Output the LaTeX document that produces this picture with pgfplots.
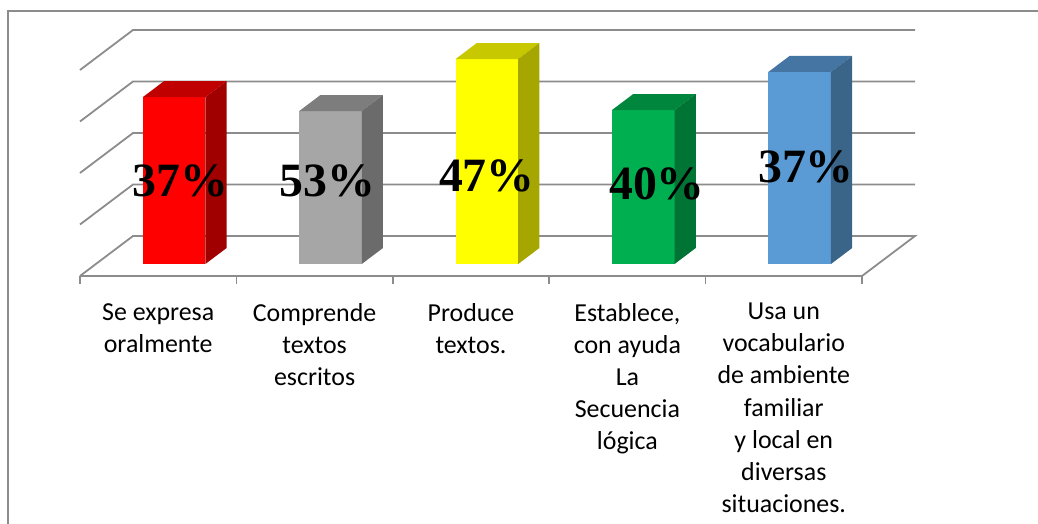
\documentclass[border=0pt]{standalone}
\usepackage{pgfplots}
\pgfplotsset{compat=1.18}
\usepackage{fontspec}
\setmainfont{Carlito}
\newfontfamily\pctfont{Liberation Serif}
\definecolor{gridgray}{HTML}{8C8C8C}
\definecolor{rF}{HTML}{FF0000}\definecolor{rT}{HTML}{C00000}\definecolor{rS}{HTML}{A00000}
\definecolor{gF}{HTML}{A6A6A6}\definecolor{gT}{HTML}{7D7D7D}\definecolor{gS}{HTML}{6B6B6B}
\definecolor{yF}{HTML}{FFFF00}\definecolor{yT}{HTML}{C8C800}\definecolor{yS}{HTML}{A6A600}
\definecolor{nF}{HTML}{00B050}\definecolor{nT}{HTML}{00873D}\definecolor{nS}{HTML}{007434}
\definecolor{bF}{HTML}{5B9BD5}\definecolor{bT}{HTML}{4575A2}\definecolor{bS}{HTML}{3A6488}
% 3D bar: #1 = category index, #2 = height, #3 front, #4 top, #5 side colour
\newcommand\threedbar[5]{%
  \pgfmathsetmacro\xl{#1+0.3}\pgfmathsetmacro\xr{#1+0.7}%
  \addplot3[fill=#3,draw=none] coordinates {(\xl,0.3,0) (\xr,0.3,0) (\xr,0.3,#2) (\xl,0.3,#2)} -- cycle;
  \addplot3[fill=#4,draw=none] coordinates {(\xl,0.3,#2) (\xr,0.3,#2) (\xr,0.7,#2) (\xl,0.7,#2)} -- cycle;
  \addplot3[fill=#5,draw=none] coordinates {(\xr,0.3,0) (\xr,0.7,0) (\xr,0.7,#2) (\xr,0.3,#2)} -- cycle;
}
\begin{document}
\begin{tikzpicture}
\useasboundingbox (0,0) rectangle (1038bp,524bp);
\clip (0,0) rectangle (1038bp,524bp);
\draw[gridgray, line width=1.5bp] (8bp,-20bp) rectangle (1060bp,513bp);
\begin{axis}[
  hide axis, clip=false,
  x={(156.4bp,0bp)}, y={(53bp,40bp)}, z={(0bp,51.5bp)},
  anchor=origin, at={(80bp,248bp)},
  xmin=0, xmax=5, ymin=0, ymax=1, zmin=0, zmax=4,
]
% grid: back wall and left wall
\addplot3[gridgray, line width=1.8bp, mark=none] coordinates {(0,0,4) (0,1,4) (5,1,4)};
\addplot3[gridgray, line width=1.8bp, mark=none] coordinates {(0,0,3) (0,1,3) (5,1,3)};
\addplot3[gridgray, line width=1.8bp, mark=none] coordinates {(0,0,2) (0,1,2) (5,1,2)};
\addplot3[gridgray, line width=1.8bp, mark=none] coordinates {(0,0,1) (0,1,1) (5,1,1)};
% floor
\addplot3[gridgray, line width=1.8bp, mark=none] coordinates {(0,0,0) (0,1,0) (5,1,0) (5,0,0) (0,0,0)};
% ticks
\addplot3[gridgray, line width=1.5bp, mark=none] coordinates {(0,0,0) (0,0,-0.16)};
\addplot3[gridgray, line width=1.5bp, mark=none] coordinates {(1,0,0) (1,0,-0.16)};
\addplot3[gridgray, line width=1.5bp, mark=none] coordinates {(2,0,0) (2,0,-0.16)};
\addplot3[gridgray, line width=1.5bp, mark=none] coordinates {(3,0,0) (3,0,-0.16)};
\addplot3[gridgray, line width=1.5bp, mark=none] coordinates {(4,0,0) (4,0,-0.16)};
\addplot3[gridgray, line width=1.5bp, mark=none] coordinates {(5,0,0) (5,0,-0.16)};
% bars
\threedbar{0}{3.24}{rF}{rT}{rS}
\threedbar{1}{2.97}{gF}{gT}{gS}
\threedbar{2}{3.98}{yF}{yT}{yS}
\threedbar{3}{2.99}{nF}{nT}{nS}
\threedbar{4}{3.73}{bF}{bT}{bS}
% percentage labels
\begin{scope}[every node/.style={anchor=base, inner sep=0pt, font=\pctfont\bfseries\fontsize{48}{50}\selectfont}]
\node at (axis cs:0.540,0.3,1.32) {37\%};
\node at (axis cs:1.480,0.3,1.32) {53\%};
\node at (axis cs:2.500,0.3,1.417) {47\%};
\node at (axis cs:3.587,0.3,1.262) {40\%};
\node at (axis cs:4.540,0.3,1.592) {37\%};
\end{scope}
% category labels
\begin{scope}[every node/.style={anchor=north, inner sep=0pt, align=center, yshift=-27bp, font=\fontsize{26}{32.2}\selectfont}]
\node at (axis cs:0.5,0,0) {Se expresa\\oralmente};
\node at (axis cs:1.5,0,0) {Comprende\\textos\\escritos};
\node at (axis cs:2.5,0,0) {Produce\\textos.};
\node at (axis cs:3.5,0,0) {Establece,\\con ayuda\\La\\Secuencia\\lógica};
\node at (axis cs:4.5,0,0) {Usa un\\vocabulario\\de ambiente\\familiar\\ y local en\\diversas\\situaciones.};
\end{scope}
\end{axis}
\end{tikzpicture}
\end{document}
